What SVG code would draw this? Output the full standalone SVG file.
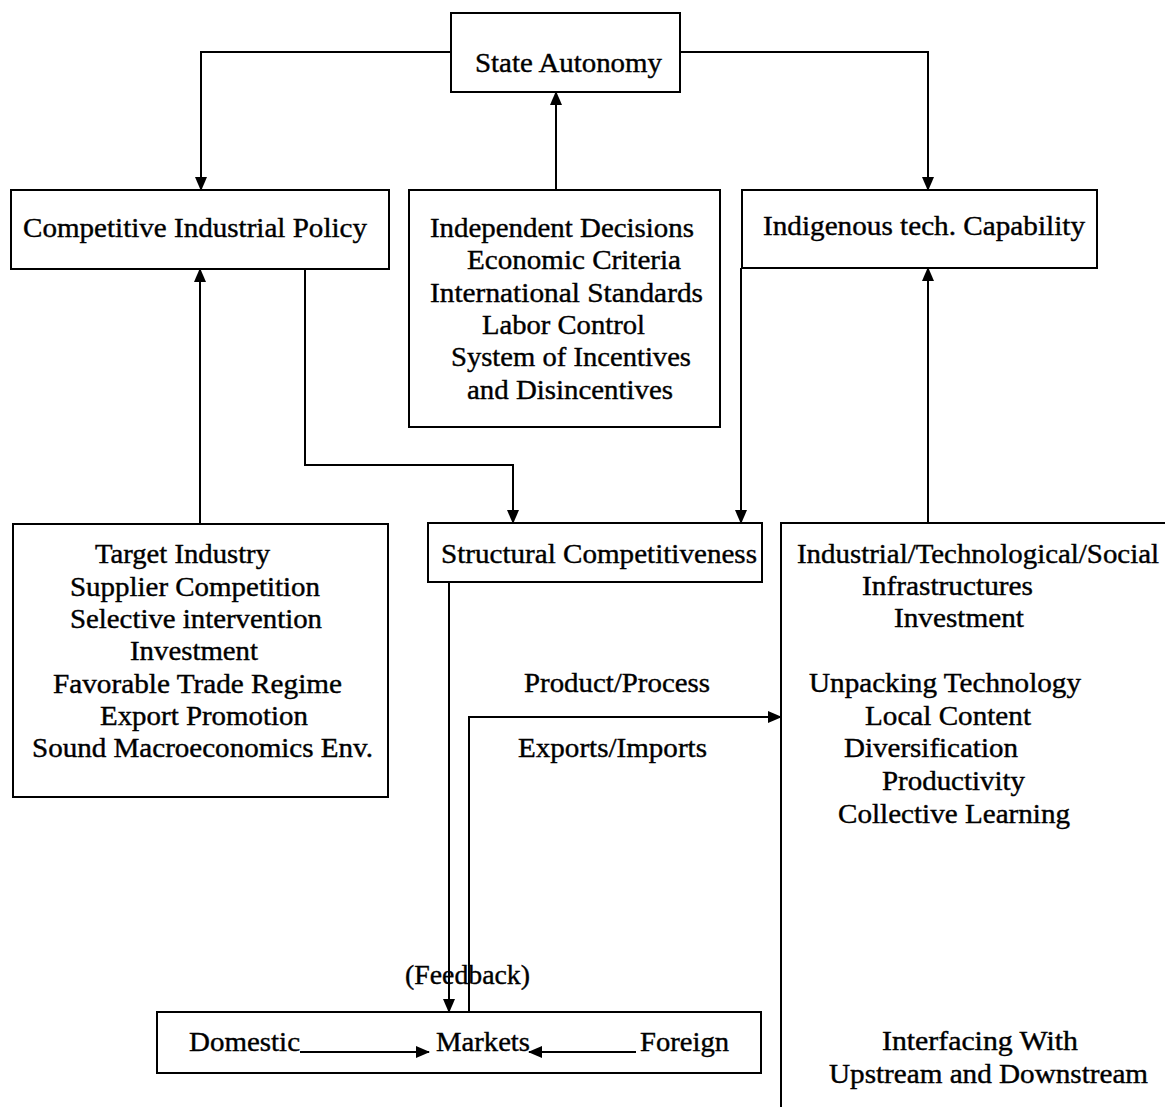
<svg xmlns="http://www.w3.org/2000/svg" width="1165" height="1107" viewBox="0 0 1165 1107">
<style>
.box{fill:#fff;stroke:#000;stroke-width:2}
.t{font-family:"Liberation Serif","Times New Roman",serif;font-size:28px;fill:#000;stroke:#000;stroke-width:0.4}
.w{font-family:"Liberation Serif","Times New Roman",serif;font-size:27px;fill:#000;stroke:#000;stroke-width:0.4}
.c{fill:none;stroke:#000;stroke-width:2}
</style>
<defs>
<marker id="ah" markerUnits="userSpaceOnUse" markerWidth="14" markerHeight="12" refX="13" refY="6" orient="auto">
<path d="M0,0 L14,6 L0,12 Z" fill="#000"/>
</marker>
</defs>
<rect x="0" y="0" width="1165" height="1107" fill="#fff"/>
<g id="state-autonomy">
<rect class="box" x="451" y="13" width="229" height="79"/>
<text class="t" x="475" y="72" textLength="187" lengthAdjust="spacingAndGlyphs">State Autonomy</text>
</g>
<g id="competitive-industrial-policy">
<rect class="box" x="11" y="190" width="378" height="79"/>
<text class="t" x="23" y="237" textLength="344" lengthAdjust="spacingAndGlyphs">Competitive Industrial Policy</text>
</g>
<g id="independent-decisions">
<rect class="box" x="409" y="190" width="311" height="237"/>
<text class="t" x="430" y="237" textLength="264" lengthAdjust="spacingAndGlyphs">Independent Decisions</text>
<text class="t" x="467" y="269" textLength="214" lengthAdjust="spacingAndGlyphs">Economic Criteria</text>
<text class="t" x="430" y="302" textLength="273" lengthAdjust="spacingAndGlyphs">International Standards</text>
<text class="t" x="482" y="334" textLength="163" lengthAdjust="spacingAndGlyphs">Labor Control</text>
<text class="t" x="451" y="366" textLength="240" lengthAdjust="spacingAndGlyphs">System of Incentives</text>
<text class="t" x="467" y="399" textLength="206" lengthAdjust="spacingAndGlyphs">and Disincentives</text>
</g>
<g id="indigenous-tech-capability">
<rect class="box" x="742" y="190" width="355" height="78"/>
<text class="t" x="763" y="235" textLength="322" lengthAdjust="spacingAndGlyphs">Indigenous tech. Capability</text>
</g>
<g id="target-industry">
<rect class="box" x="13" y="524" width="375" height="273"/>
<text class="w" x="95" y="563" textLength="175" lengthAdjust="spacingAndGlyphs">Target Industry</text>
<text class="w" x="70" y="596" textLength="250" lengthAdjust="spacingAndGlyphs">Supplier Competition</text>
<text class="w" x="70" y="628" textLength="252" lengthAdjust="spacingAndGlyphs">Selective intervention</text>
<text class="w" x="130" y="660" textLength="128" lengthAdjust="spacingAndGlyphs">Investment</text>
<text class="w" x="53" y="693" textLength="289" lengthAdjust="spacingAndGlyphs">Favorable Trade Regime</text>
<text class="w" x="100" y="725" textLength="208" lengthAdjust="spacingAndGlyphs">Export Promotion</text>
<text class="w" x="32" y="757" textLength="341" lengthAdjust="spacingAndGlyphs">Sound Macroeconomics Env.</text>
</g>
<g id="structural-competitiveness">
<rect class="box" x="428" y="523" width="334" height="59"/>
<text class="t" x="441" y="563" textLength="316" lengthAdjust="spacingAndGlyphs">Structural Competitiveness</text>
</g>
<g id="labels">
<text class="t" x="524" y="692" textLength="186" lengthAdjust="spacingAndGlyphs">Product/Process</text>
<text class="t" x="518" y="757" textLength="189" lengthAdjust="spacingAndGlyphs">Exports/Imports</text>
<text class="t" x="405" y="984" textLength="125" lengthAdjust="spacingAndGlyphs">(Feedback)</text>
</g>
<g id="infrastructures">
<rect class="box" x="781" y="523" width="400" height="600"/>
<text class="w" x="797" y="563" textLength="362" lengthAdjust="spacingAndGlyphs">Industrial/Technological/Social</text>
<text class="w" x="862" y="595" textLength="171" lengthAdjust="spacingAndGlyphs">Infrastructures</text>
<text class="w" x="894" y="627" textLength="130" lengthAdjust="spacingAndGlyphs">Investment</text>
<text class="w" x="809" y="692" textLength="272" lengthAdjust="spacingAndGlyphs">Unpacking Technology</text>
<text class="w" x="865" y="725" textLength="166" lengthAdjust="spacingAndGlyphs">Local Content</text>
<text class="w" x="844" y="757" textLength="174" lengthAdjust="spacingAndGlyphs">Diversification</text>
<text class="w" x="882" y="790" textLength="143" lengthAdjust="spacingAndGlyphs">Productivity</text>
<text class="w" x="838" y="823" textLength="232" lengthAdjust="spacingAndGlyphs">Collective Learning</text>
<text class="w" x="882" y="1050" textLength="196" lengthAdjust="spacingAndGlyphs">Interfacing With</text>
<text class="w" x="829" y="1083" textLength="319" lengthAdjust="spacingAndGlyphs">Upstream and Downstream</text>
</g>
<g id="markets">
<rect class="box" x="157" y="1012" width="604" height="61"/>
<text class="t" x="189" y="1051" textLength="111" lengthAdjust="spacingAndGlyphs">Domestic</text>
<text class="t" x="436" y="1051" textLength="94" lengthAdjust="spacingAndGlyphs">Markets</text>
<text class="t" x="640" y="1051" textLength="89" lengthAdjust="spacingAndGlyphs">Foreign</text>
</g>
<g id="connectors">
<path class="c" d="M451,52 H201 V190" marker-end="url(#ah)"/>
<path class="c" d="M680,52 H928 V190" marker-end="url(#ah)"/>
<path class="c" d="M556,190 V92" marker-end="url(#ah)"/>
<path class="c" d="M305,269 V465 H513 V523" marker-end="url(#ah)"/>
<path class="c" d="M741,268 V523" marker-end="url(#ah)"/>
<path class="c" d="M200,524 V269" marker-end="url(#ah)"/>
<path class="c" d="M928,523 V268" marker-end="url(#ah)"/>
<path class="c" d="M449,582 V1012" marker-end="url(#ah)"/>
<path class="c" d="M469,1012 V717 H781" marker-end="url(#ah)"/>
<path class="c" d="M300,1052 H429" marker-end="url(#ah)"/>
<path class="c" d="M636,1052 H529" marker-end="url(#ah)"/>
</g>
</svg>
